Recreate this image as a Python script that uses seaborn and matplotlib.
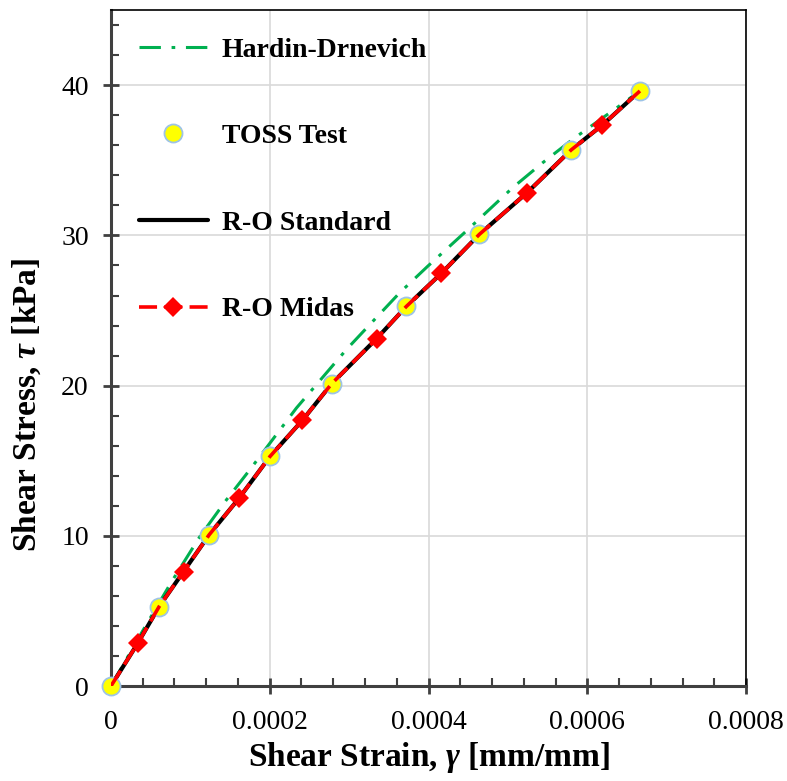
import numpy as np
import pandas as pd
import matplotlib
matplotlib.use("Agg")
import matplotlib.pyplot as plt
import seaborn as sns
from matplotlib.ticker import MultipleLocator

# ---- data ----
toss_strain = [0, 6.07e-5, 1.237e-4, 2.004e-4, 2.78e-4, 3.72e-4, 4.64e-4, 5.796e-4, 6.663e-4]
toss_stress = [0, 5.29, 10.07, 15.29, 20.13, 25.27, 30.07, 35.69, 39.62]

std_strain = [0, 3.36e-5, 6.07e-5, 9.14e-5, 1.237e-4, 1.614e-4, 2.004e-4, 2.411e-4, 2.78e-4,
              3.346e-4, 3.72e-4, 4.16e-4, 4.64e-4, 5.24e-4, 5.796e-4, 6.185e-4, 6.663e-4]
std_stress = [0, 2.84, 5.29, 7.62, 10.07, 12.51, 15.29, 17.69, 20.13,
              23.13, 25.27, 27.47, 30.07, 32.84, 35.69, 37.33, 39.62]

midas_strain = [0, 3.36e-5, 6.07e-5, 9.14e-5, 1.237e-4, 1.614e-4, 2.004e-4, 2.411e-4, 2.78e-4,
                3.346e-4, 3.72e-4, 4.16e-4, 4.64e-4, 5.24e-4, 5.796e-4, 6.185e-4, 6.663e-4]
midas_stress = [0, 2.84, 5.29, 7.62, 10.07, 12.51, 15.29, 17.69, 20.13,
                23.13, 25.27, 27.47, 30.07, 32.84, 35.69, 37.33, 39.62]

hd_strain = [0, 4.06e-5, 7.64e-5, 1.12e-4, 1.455e-4, 1.749e-4, 2.042e-4, 2.336e-4, 2.965e-4,
             3.30e-4, 3.636e-4, 3.99e-4, 4.475e-4, 5.06e-4, 5.44e-4, 5.816e-4, 6.403e-4, 6.663e-4]
hd_stress = [0, 3.73, 6.95, 9.95, 12.4, 14.4, 16.45, 18.51, 22.4,
             24.29, 26.18, 27.95, 30.29, 33.18, 34.85, 36.4, 38.62, 39.62]

x_ticks = [0, 0.0002, 0.0004, 0.0006, 0.0008]
x_tick_labels = ["0", "0.0002", "0.0004", "0.0006", "0.0008"]
y_ticks = [0, 10, 20, 30, 40]

sns.set_theme(style="white")
plt.rcParams["font.family"] = ["Liberation Serif", "DejaVu Serif"]
plt.rcParams["text.color"] = "black"
plt.rcParams["axes.labelcolor"] = "black"
plt.rcParams["mathtext.fontset"] = "custom"
plt.rcParams["mathtext.it"] = "Liberation Serif:bold:italic"
plt.rcParams["mathtext.rm"] = "Liberation Serif:bold"
plt.rcParams["mathtext.bf"] = "Liberation Serif:bold"

fig = plt.figure(figsize=(7.87, 7.81), dpi=100)
ax = fig.add_axes([0.141, 0.1216, 0.807, 0.8654])

green = "#00B050"
hd = pd.DataFrame({"x": hd_strain, "y": hd_stress})
sd = pd.DataFrame({"x": std_strain, "y": std_stress})
md = pd.DataFrame({"x": midas_strain, "y": midas_stress})

sns.lineplot(data=hd, x="x", y="y", ax=ax, sort=False, estimator=None, color=green,
             lw=2.2, zorder=2, label="Hardin-Drnevich")
ax.lines[-1].set_dashes([7, 3.5, 1.2, 3.5])
sns.lineplot(data=sd, x="x", y="y", ax=ax, sort=False, estimator=None, color="black",
             lw=3.0, zorder=3, label="R-O Standard")
ax.plot(toss_strain, toss_stress, ls="none", marker="o", ms=13, mfc="#FFFF00",
        mec="#9DC3E6", mew=1.3, zorder=4, label="TOSS Test", clip_on=False)
sns.lineplot(data=md, x="x", y="y", ax=ax, sort=False, estimator=None, color="#FF0000",
             lw=2.6, zorder=5, label="R-O Midas", marker="D", markersize=10.5,
             markeredgewidth=0, markevery=list(range(1, len(midas_strain) - 1, 2)))
ax.lines[-1].set_dashes([5, 2])

ax.set_xlim(0, 0.0008)
ax.set_ylim(0, 45)
ax.set_xticks(x_ticks)
ax.set_xticklabels(x_tick_labels)
ax.set_yticks(y_ticks)
ax.xaxis.set_minor_locator(MultipleLocator(0.00004))
ax.yaxis.set_minor_locator(MultipleLocator(2))
ax.grid(True, which="major", color="#D9D9D9", lw=1.2)
ax.set_axisbelow(True)

ax.tick_params(axis="both", which="both", bottom=True, left=True, top=False, right=False)
ax.tick_params(axis="both", which="major", direction="inout", length=12, width=2,
               color="#404040", labelcolor="black", labelsize=20)
ax.tick_params(axis="both", which="minor", direction="in", length=6, width=1.5,
               color="#404040")
ax.tick_params(axis="x", which="major", pad=11)
ax.tick_params(axis="y", which="major", pad=10)
for s in ["left", "bottom"]:
    ax.spines[s].set_color("#404040")
    ax.spines[s].set_linewidth(2.2)
for s in ["top", "right"]:
    ax.spines[s].set_color("black")
    ax.spines[s].set_linewidth(1.2)
    ax.spines[s].set_visible(True)

ax.set_xlabel(r"Shear Strain, $\gamma$ [mm/mm]", fontsize=24, fontweight="bold", labelpad=4)
ax.set_ylabel(r"Shear Stress, $\tau$ [kPa]", fontsize=24, fontweight="bold")
ax.yaxis.set_label_coords(-0.107, 0.416)

handles, labels = ax.get_legend_handles_labels()
order = ["Hardin-Drnevich", "TOSS Test", "R-O Standard", "R-O Midas"]
hmap = dict(zip(labels, handles))
ax.legend([hmap[k] for k in order], order, loc="upper left", bbox_to_anchor=(0.004, 0.997),
          frameon=False, prop={"family": "Liberation Serif", "weight": "bold", "size": 20},
          handlelength=2.5, handletextpad=0.5, labelspacing=2.2, numpoints=1)

fig.savefig("out.png", dpi=100)
